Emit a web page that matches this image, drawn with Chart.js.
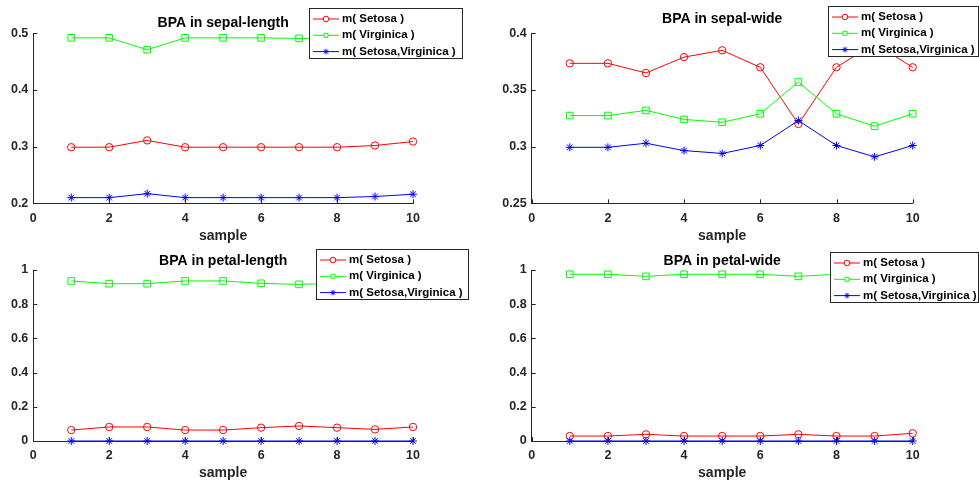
<!DOCTYPE html>
<html>
<head>
<meta charset="utf-8">
<script src="https://cdn.jsdelivr.net/npm/chart.js@4.4.1/dist/chart.umd.min.js"></script>
<style>
  html, body { margin: 0; padding: 0; background: #fff; }
  #fig { position: relative; width: 979px; height: 483px; overflow: hidden; }
  #fig canvas { position: absolute; }
</style>
</head>
<body>
<div id="fig">
  <canvas id="sepalLength" width="490" height="245" style="left:0;top:0"></canvas>
  <canvas id="sepalWide" width="489" height="245" style="left:490px;top:0"></canvas>
  <canvas id="petalLength" width="490" height="241" style="left:0;top:241px"></canvas>
  <canvas id="petalWide" width="489" height="241" style="left:490px;top:241px"></canvas>
</div>
<script>
// --- data ---
const samples = [1, 2, 3, 4, 5, 6, 7, 8, 9, 10];
const seriesNames = ['m( Setosa )', 'm( Virginica )', 'm( Setosa,Virginica )'];

const slSetosa    = [0.299, 0.299, 0.311, 0.299, 0.299, 0.299, 0.299, 0.299, 0.302, 0.309];
const slVirginica = [0.492, 0.492, 0.471, 0.492, 0.492, 0.492, 0.491, 0.491, 0.486, 0.475];
const slBoth      = [0.210, 0.210, 0.217, 0.210, 0.210, 0.210, 0.210, 0.210, 0.212, 0.216];

const swSetosa    = [0.3735, 0.3735, 0.365, 0.379, 0.385, 0.370, 0.320, 0.370, 0.391, 0.370];
const swVirginica = [0.3274, 0.3274, 0.332, 0.324, 0.3215, 0.329, 0.357, 0.329, 0.318, 0.329];
const swBoth      = [0.2994, 0.2994, 0.303, 0.2965, 0.294, 0.301, 0.323, 0.301, 0.291, 0.301];

const plSetosa    = [0.064, 0.082, 0.082, 0.064, 0.064, 0.078, 0.088, 0.078, 0.068, 0.082];
const plVirginica = [0.936, 0.920, 0.920, 0.936, 0.936, 0.922, 0.916, 0.922, 0.932, 0.918];
const plBoth      = [0, 0, 0, 0, 0, 0, 0, 0, 0, 0];

const pwSetosa    = [0.029, 0.029, 0.039, 0.029, 0.029, 0.029, 0.039, 0.029, 0.029, 0.045];
const pwVirginica = [0.975, 0.975, 0.963, 0.975, 0.975, 0.975, 0.963, 0.975, 0.975, 0.955];
const pwBoth      = [0, 0, 0, 0, 0, 0, 0, 0, 0, 0];

const FONT = '"Liberation Sans", Arial, Helvetica, sans-serif';
const AXIS = '#262626';

const seriesStyles = [
  { color: '#ff0000', pointStyle: 'circle', radius: 3.7, order: 2 },
  { color: '#00ff00', pointStyle: 'rect', radius: 4.7, order: 1 },
  { color: '#0000ff', pointStyle: 'star', radius: 4, order: 0 }
];

// tick labels like MATLAB: 0.5, 0.35, 1 (no padded zeros)
const tickText = v => String(Math.round(v * 1000) / 1000);

// MATLAB style ticks pointing into the axes
const inwardTicks = {
  id: 'inwardTicks',
  afterDraw(chart) {
    const { ctx, chartArea: a, scales: { x, y } } = chart;
    ctx.save();
    ctx.strokeStyle = AXIS;
    ctx.lineWidth = 1;
    ctx.beginPath();
    x.ticks.forEach(t => {
      const px = Math.round(x.getPixelForValue(t.value)) + 0.5;
      ctx.moveTo(px, a.bottom);
      ctx.lineTo(px, a.bottom - 4);
    });
    y.ticks.forEach(t => {
      const py = Math.round(y.getPixelForValue(t.value)) + 0.5;
      ctx.moveTo(a.left, py);
      ctx.lineTo(a.left + 4, py);
    });
    ctx.stroke();
    ctx.restore();
  }
};

// boxed legend sitting over the upper right corner, like the original
const boxLegend = {
  id: 'boxLegend',
  afterDraw(chart, args, opts) {
    const ctx = chart.ctx;
    ctx.save();
    ctx.fillStyle = '#fff';
    ctx.fillRect(opts.left, opts.top, opts.width, opts.height);
    ctx.strokeStyle = AXIS;
    ctx.lineWidth = 1;
    ctx.strokeRect(opts.left + 0.5, opts.top + 0.5, opts.width - 1, opts.height - 1);
    ctx.font = 'bold 11.5px ' + FONT;
    ctx.textBaseline = 'middle';
    chart.data.datasets.forEach((ds, i) => {
      const yy = opts.top + 11 + i * 16.3;
      ctx.strokeStyle = ds.borderColor;
      ctx.lineWidth = 1;
      ctx.beginPath();
      ctx.moveTo(opts.left + 4, yy);
      ctx.lineTo(opts.left + 30, yy);
      ctx.stroke();
      ctx.fillStyle = '#fff';
      Chart.helpers.drawPoint(ctx, { pointStyle: ds.pointStyle, radius: 2.8, borderWidth: 1, rotation: 0 }, opts.left + 17, yy);
      ctx.fillStyle = '#000';
      ctx.fillText(ds.label, opts.left + 33, yy);
    });
    ctx.restore();
  }
};

function makeFigure(id, title, series, yMin, yMax, yStep, box) {
  const canvas = document.getElementById(id);
  const W = canvas.width, H = canvas.height;
  const datasets = series.map((vals, i) => ({
    label: seriesNames[i],
    data: samples.map((s, k) => ({ x: s, y: vals[k] })),
    borderColor: seriesStyles[i].color,
    backgroundColor: 'transparent',
    borderWidth: 1,
    pointStyle: seriesStyles[i].pointStyle,
    pointRadius: seriesStyles[i].radius,
    pointBorderWidth: 1,
    pointBorderColor: seriesStyles[i].color,
    pointBackgroundColor: 'transparent',
    tension: 0,
    clip: false,
    order: seriesStyles[i].order
  }));

  new Chart(canvas.getContext('2d'), {
    type: 'line',
    data: { datasets },
    options: {
      responsive: false,
      animation: false,
      events: [],
      layout: { padding: { left: 0, top: box.titleY - 8.4, right: W - box.right, bottom: 0 } },
      plugins: {
        legend: { display: false },
        tooltip: { enabled: false },
        title: {
          display: true,
          text: title,
          fullSize: false,
          color: '#000',
          font: { family: FONT, size: 14, weight: 'bold', lineHeight: 1.2 },
          padding: { top: 0, bottom: box.top - (box.titleY - 8.4) - 16.8 }
        },
        boxLegend: box.legend
      },
      scales: {
        x: {
          type: 'linear',
          min: 0,
          max: 10,
          afterFit: s => { s.height = H - box.bottom; },
          grid: { display: false, drawTicks: false },
          border: { display: true, color: AXIS, width: 1 },
          ticks: { stepSize: 2, padding: 7.5, color: AXIS, callback: tickText,
                   font: { family: FONT, size: 12.5, weight: 'bold' } },
          title: { display: true, text: 'sample', color: AXIS, padding: 0,
                   font: { family: FONT, size: 14, weight: 'bold', lineHeight: 1.2 } }
        },
        y: {
          type: 'linear',
          min: yMin,
          max: yMax,
          afterFit: s => { s.width = box.left; },
          grid: { display: false, drawTicks: false },
          border: { display: true, color: AXIS, width: 1 },
          ticks: { stepSize: yStep, padding: 5, color: AXIS, callback: tickText,
                   font: { family: FONT, size: 12.5, weight: 'bold' } }
        }
      }
    },
    plugins: [inwardTicks, boxLegend]
  });
}

makeFigure('sepalLength', 'BPA in sepal-length', [slSetosa, slVirginica, slBoth], 0.2, 0.5, 0.1,
  { left: 33.3, right: 413, top: 33.3, bottom: 203.3, titleY: 23.5,
    legend: { left: 309, top: 8, width: 154, height: 51 } });

makeFigure('sepalWide', 'BPA in sepal-wide', [swSetosa, swVirginica, swBoth], 0.25, 0.4, 0.05,
  { left: 41.7, right: 422.7, top: 33.3, bottom: 203.3, titleY: 19,
    legend: { left: 338, top: 6, width: 151, height: 51 } });

makeFigure('petalLength', 'BPA in petal-length', [plSetosa, plVirginica, plBoth], 0, 1, 0.2,
  { left: 33.3, right: 413, top: 29, bottom: 200, titleY: 19.7,
    legend: { left: 316, top: 8, width: 153, height: 51 } });

makeFigure('petalWide', 'BPA in petal-wide', [pwSetosa, pwVirginica, pwBoth], 0, 1, 0.2,
  { left: 41.7, right: 422.7, top: 29, bottom: 200, titleY: 19.7,
    legend: { left: 340, top: 11, width: 149, height: 51 } });
</script>
</body>
</html>
